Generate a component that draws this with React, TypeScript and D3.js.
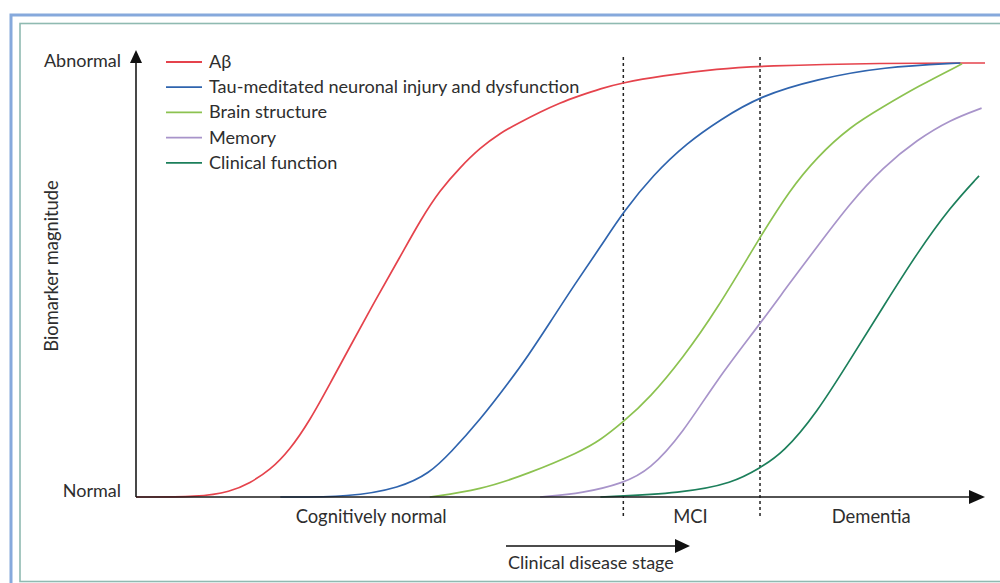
import React from "react";
import * as d3 from "d3";

const seriesNames = [
  "Aβ",
  "Tau-meditated neuronal injury and dysfunction",
  "Brain structure",
  "Memory",
  "Clinical function",
];
const seriesColors = ["#e5434c", "#2f64ae", "#8cc250", "#a894ca", "#1c7f5b"];

// x: disease progression (0–100), y: biomarker magnitude (0 normal – 1 abnormal)
const abetaX = [0, 7.5, 11.1, 13.4, 15.8, 18.1, 20.5, 22.9, 25.2, 28.2, 31.1, 33.5, 35.8, 38.2, 40.5, 42.9, 45.2, 47.6, 49.9, 52.3, 54.7, 57.2, 61.7, 68.8, 73.5, 88.0, 100];
const abetaY = [0, 0, 0.012, 0.032, 0.062, 0.108, 0.177, 0.263, 0.346, 0.454, 0.553, 0.638, 0.707, 0.76, 0.804, 0.839, 0.863, 0.887, 0.908, 0.925, 0.941, 0.954, 0.97, 0.987, 0.993, 1, 1];

const tauX = [17.0, 25.2, 31.1, 34.6, 37.0, 40.5, 44.1, 46.1, 48.8, 51.7, 54.7, 57.4, 60.9, 64.9, 68.8, 73.5, 80.2, 88.0, 97.1];
const tauY = [0, 0, 0.021, 0.055, 0.101, 0.177, 0.269, 0.323, 0.403, 0.491, 0.576, 0.657, 0.742, 0.816, 0.869, 0.924, 0.963, 0.991, 1];

const brainX = [34.6, 40.5, 46.4, 52.3, 54.7, 57.4, 60.5, 64.4, 68.4, 73.5, 77.0, 80.2, 84.1, 88.0, 92.0, 97.3];
const brainY = [0, 0.016, 0.055, 0.104, 0.131, 0.173, 0.228, 0.32, 0.431, 0.599, 0.707, 0.783, 0.853, 0.899, 0.945, 0.998];

const memoryX = [47.6, 52.7, 57.4, 60.5, 64.4, 68.4, 73.5, 77.0, 80.2, 84.1, 88.0, 92.0, 95.9, 99.6];
const memoryY = [0, 0.009, 0.032, 0.062, 0.147, 0.27, 0.399, 0.493, 0.576, 0.677, 0.76, 0.823, 0.869, 0.896];

const clinicalX = [54.7, 64.4, 70.3, 73.5, 76.2, 80.2, 84.1, 88.0, 92.0, 95.9, 99.3];
const clinicalY = [0, 0.009, 0.032, 0.067, 0.101, 0.194, 0.316, 0.438, 0.562, 0.668, 0.74];

const stageLabels = ["Cognitively normal", "MCI", "Dementia"];
const stageLabelX = [27.7, 65.3, 86.6];
const stageDividers = [57.4, 73.5];
const yTickLabels = ["Normal", "Abnormal"];
const yTickValues = [0, 1];

const FONT = "Lato, 'Open Sans', sans-serif";

export default function App() {
  const W = 1000, H = 583;
  const x = d3.scaleLinear().domain([0, 100]).range([136, 985]);
  const y = d3.scaleLinear().domain([0, 1]).range([497, 63]);

  const seriesX = [abetaX, tauX, brainX, memoryX, clinicalX];
  const seriesY = [abetaY, tauY, brainY, memoryY, clinicalY];

  const line = d3
    .line<[number, number]>()
    .x((d) => x(d[0]))
    .y((d) => y(d[1]))
    .curve(d3.curveBasis);

  const textColor = "#2e2e2e";

  return (
    <svg
      width={W}
      height={H}
      style={{ position: "absolute", left: 0, top: 0, background: "#fff" }}
      fontFamily={FONT}
    >
      {/* frame */}
      <rect x={11} y={15} width={1000} height={600} fill="none" stroke="#86a9dc" strokeWidth={3} />
      <rect x={20} y={23.5} width={990} height={558} fill="none" stroke="#8fbab1" strokeWidth={1.6} />

      {/* stage dividers */}
      {stageDividers.map((v, i) => (
        <line
          key={i}
          x1={x(v)}
          x2={x(v)}
          y1={57}
          y2={518}
          stroke="#222"
          strokeWidth={1.5}
          strokeDasharray="3,3"
        />
      ))}

      {/* curves */}
      {seriesX.map((xs, i) => {
        const pts = xs.map((v, j) => [v, seriesY[i][j]] as [number, number]);
        return (
          <path
            key={i}
            d={line(pts) || ""}
            fill="none"
            stroke={seriesColors[i]}
            strokeWidth={1.7}
          />
        );
      })}

      {/* axes */}
      <line x1={x(0)} x2={x(0)} y1={y(0)} y2={60} stroke="#1a1a1a" strokeWidth={1.6} />
      <path d={`M${x(0)},50 L${x(0) - 6},63 L${x(0) + 6},63 Z`} fill="#111" />
      <line x1={x(0)} x2={972} y1={y(0)} y2={y(0)} stroke="#1a1a1a" strokeWidth={1.6} />
      <path d={`M985,${y(0)} L969,${y(0) - 7} L969,${y(0) + 7} Z`} fill="#111" />

      {/* y tick labels */}
      {yTickLabels.map((t, i) => (
        <text
          key={t}
          x={121}
          y={y(yTickValues[i]) + (i === 0 ? 0 : 4)}
          textAnchor="end"
          fontSize={18}
          fill={textColor}
        >
          {t}
        </text>
      ))}

      {/* y axis title */}
      <text
        transform="translate(58,266) rotate(-90)"
        textAnchor="middle"
        fontSize={18.3}
        fill={textColor}
      >
        Biomarker magnitude
      </text>

      {/* stage labels */}
      {stageLabels.map((t, i) => (
        <text
          key={t}
          x={x(stageLabelX[i])}
          y={523}
          textAnchor="middle"
          fontSize={18.4}
          fill={textColor}
        >
          {t}
        </text>
      ))}

      {/* clinical disease stage arrow */}
      <line x1={506} x2={678} y1={546} y2={546} stroke="#111" strokeWidth={1.6} />
      <path d="M690,546 L675,539 L675,553 Z" fill="#111" />
      <text x={508} y={569} fontSize={18} fill={textColor}>
        Clinical disease stage
      </text>

      {/* legend */}
      {seriesNames.map((n, i) => {
        const ly = 62 + i * 25.2;
        return (
          <g key={n}>
            <line x1={166} x2={202} y1={ly} y2={ly} stroke={seriesColors[i]} strokeWidth={1.8} />
            <text x={209} y={ly + 6} fontSize={18.1} fill={textColor}>
              {n}
            </text>
          </g>
        );
      })}
    </svg>
  );
}
